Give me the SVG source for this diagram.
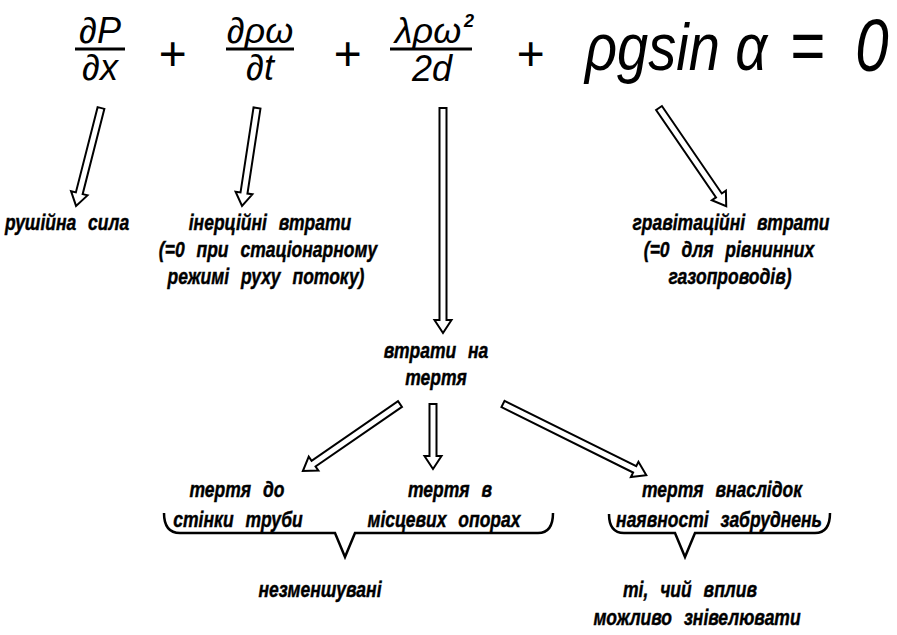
<svg xmlns="http://www.w3.org/2000/svg" width="897" height="635" viewBox="0 0 897 635">
<style>
.eq{font-family:"Liberation Sans",Arial,sans-serif;font-style:italic;fill:#000}
.lbl{font-family:"Liberation Sans",Arial,sans-serif;font-style:italic;font-weight:bold;font-size:17.5px;fill:#000;stroke:#000;stroke-width:0.35;word-spacing:7px;text-anchor:middle}
.fl{stroke:#000;stroke-width:3}
.arr{fill:#fff;stroke:#000;stroke-width:2;stroke-linejoin:miter}
.brace{fill:none;stroke:#000;stroke-width:2.5;stroke-linejoin:miter}
</style>
<rect width="897" height="635" fill="#fff"/>
<g id="equation">
  <text class="eq" x="100" y="43" font-size="36" text-anchor="middle">∂P</text>
  <line class="fl" x1="75" y1="49" x2="125" y2="49"/>
  <text class="eq" x="100" y="80" font-size="36" text-anchor="middle">∂x</text>
  <text class="eq" x="172" y="70" font-size="48" text-anchor="middle">+</text>
  <text class="eq" x="260" y="43" font-size="36" text-anchor="middle">∂ρω</text>
  <line class="fl" x1="226" y1="49" x2="294" y2="49"/>
  <text class="eq" x="260" y="80" font-size="36" text-anchor="middle">∂t</text>
  <text class="eq" x="347" y="70" font-size="48" text-anchor="middle">+</text>
  <text class="eq" x="428" y="43" font-size="36" text-anchor="middle">λρω</text>
  <text class="eq" x="469" y="27" font-size="18" font-weight="bold" text-anchor="middle">2</text>
  <line class="fl" x1="390" y1="49" x2="472" y2="49"/>
  <text class="eq" x="432" y="81" font-size="36" text-anchor="middle">2d</text>
  <text class="eq" x="530" y="70" font-size="48" text-anchor="middle">+</text>
  <text class="eq" transform="translate(585,70) scale(1,1.2)" font-size="56">ρgsin α</text>
  <text class="eq" transform="translate(807,70) scale(1,1.2)" font-size="60" text-anchor="middle">=</text>
  <text class="eq" transform="translate(872,71) scale(1,1.25)" font-size="60" text-anchor="middle">0</text>
</g>
<g id="connectors">
  <path class="arr" transform="translate(101,108) rotate(104.3)" d="M0,-3.5 L88,-3.5 L88,-8.5 L101,0 L88,8.5 L88,3.5 L0,3.5 Z"/>
  <path class="arr" transform="translate(257,108) rotate(98.7)" d="M0,-3.5 L86,-3.5 L86,-8.5 L99,0 L86,8.5 L86,3.5 L0,3.5 Z"/>
  <path class="arr" transform="translate(443,108) rotate(90)" d="M0,-3.5 L212,-3.5 L212,-8.5 L225,0 L212,8.5 L212,3.5 L0,3.5 Z"/>
  <path class="arr" transform="translate(659,108) rotate(55.6)" d="M0,-3.5 L106,-3.5 L106,-8.5 L119,0 L106,8.5 L106,3.5 L0,3.5 Z"/>
  <path class="arr" transform="translate(400,404) rotate(145.4)" d="M0,-3.5 L105,-3.5 L105,-8.5 L118,0 L105,8.5 L105,3.5 L0,3.5 Z"/>
  <path class="arr" transform="translate(433,404) rotate(90)" d="M0,-3.5 L52,-3.5 L52,-8.5 L65,0 L52,8.5 L52,3.5 L0,3.5 Z"/>
  <path class="arr" transform="translate(503,404) rotate(26.4)" d="M0,-3.5 L147,-3.5 L147,-8.5 L160,0 L147,8.5 L147,3.5 L0,3.5 Z"/>
  <path class="brace" d="M164,513 Q164,533 180,533 L335,533 L345,557 L355,533 L538,533 Q553,533 553,513"/>
  <path class="brace" d="M609,514 Q609,533 624,533 L675,533 L685,557 L695,533 L815,533 Q830,533 830,513"/>
</g>
<g id="n-rushiina">
  <text class="lbl" transform="translate(67,230) scale(1,1.25)">рушійна сила</text>
</g>
<g id="n-inertsiini">
  <text class="lbl" transform="translate(270,230) scale(1,1.25)">інерційні втрати</text>
  <text class="lbl" transform="translate(268,257) scale(1,1.25)">(=0 при стаціонарному</text>
  <text class="lbl" transform="translate(266,284) scale(1,1.25)">режимі руху потоку)</text>
</g>
<g id="n-hravitatsiini">
  <text class="lbl" transform="translate(731,230) scale(1,1.25)">гравітаційні втрати</text>
  <text class="lbl" transform="translate(729,257) scale(1,1.25)">(=0 для рівнинних</text>
  <text class="lbl" transform="translate(730,284) scale(1,1.25)">газопроводів)</text>
</g>
<g id="n-tertia">
  <text class="lbl" transform="translate(436,358) scale(1,1.25)">втрати на</text>
  <text class="lbl" transform="translate(436,385) scale(1,1.25)">тертя</text>
</g>
<g id="n-stinky">
  <text class="lbl" transform="translate(237,497) scale(1,1.25)">тертя до</text>
  <text class="lbl" transform="translate(238,527) scale(1,1.25)">стінки труби</text>
</g>
<g id="n-opory">
  <text class="lbl" transform="translate(450,497) scale(1,1.25)">тертя в</text>
  <text class="lbl" transform="translate(444,527) scale(1,1.25)">місцевих опорах</text>
</g>
<g id="n-zabrudnennia">
  <text class="lbl" transform="translate(722,497) scale(1,1.25)">тертя внаслідок</text>
  <text class="lbl" transform="translate(719,527) scale(1,1.25)">наявності забруднень</text>
</g>
<g id="n-nezmenshuvani">
  <text class="lbl" transform="translate(320,597) scale(1,1.25)">незменшувані</text>
</g>
<g id="n-znivelyuvaty">
  <text class="lbl" transform="translate(690,597) scale(1,1.25)">ті, чий вплив</text>
  <text class="lbl" transform="translate(697,625) scale(1,1.25)">можливо знівелювати</text>
</g>
</svg>
